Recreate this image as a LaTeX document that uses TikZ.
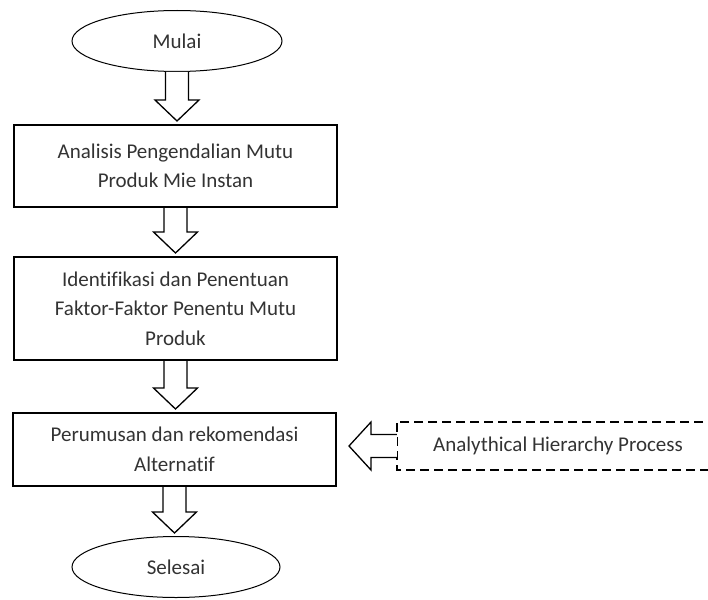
\documentclass[tikz,border=0pt]{standalone}
\usepackage{fontspec}
\setmainfont[Ligatures=NoCommon]{Carlito}
\usetikzlibrary{calc,shapes.geometric}
\tikzset{
  txt/.style={font=\fontsize{21}{29.5}\selectfont, text=black!80, align=center},
  term/.style={txt, ellipse, draw, line width=1pt, inner sep=0pt},
  proc/.style={txt, rectangle, draw, line width=2pt, inner sep=0pt},
  ext/.style={txt, rectangle, inner sep=0pt},
  frame/.style={draw, line width=2pt, dash pattern=on 9pt off 5pt},
  blk/.style={draw, line width=1.3pt, line join=miter, fill=white}
}
\newcommand{\blkdown}[2]{%
  \draw[blk] let \p1=(#1.south), \p2=(#2.north) in
    (\x1-11.5pt,\y1) -- (\x1-11.5pt,\y2+24pt) -- (\x1-22pt,\y2+24pt) -- (\x1,\y2+3pt)
    -- (\x1+22pt,\y2+24pt) -- (\x1+11.5pt,\y2+24pt) -- (\x1+11.5pt,\y1);}
\begin{document}
\begin{tikzpicture}[x=1pt,y=-1pt]
\useasboundingbox (0,0) rectangle (708,599);
\node[term, minimum width=210pt, minimum height=61pt] (mulai) at (177,41) {Mulai};
\node[proc, minimum width=323pt, minimum height=82pt] (a1) at (175.5,166) {Analisis Pengendalian Mutu\\Produk Mie Instan};
\node[proc, minimum width=323pt, minimum height=103pt] (a2) at (175.5,308.5) {Identifikasi dan Penentuan\\Faktor-Faktor Penentu Mutu\\Produk};
\node[proc, minimum width=323pt, minimum height=73pt] (a3) at (174.5,449.5) {Perumusan dan rekomendasi\\Alternatif};
\node[term, minimum width=208pt, minimum height=61pt] (selesai) at (176,567) {Selesai};
\node[ext, minimum width=322pt, minimum height=48pt] (ahp) at (558,446) {Analythical Hierarchy Process};
\draw[frame] ($(ahp.north east)+(40,0)$) -- (ahp.north west) -- (ahp.south west) -- ($(ahp.south east)+(40,0)$);
\blkdown{mulai}{a1}
\blkdown{a1}{a2}
\blkdown{a2}{a3}
\blkdown{a3}{selesai}
\draw[blk] let \p1=(ahp.west), \p2=(a3.east) in
  (\x1,\y1+11.5pt) -- (\x2+34pt,\y1+11.5pt) -- (\x2+34pt,\y1+24pt) -- (\x2+12pt,\y1)
  -- (\x2+34pt,\y1-24pt) -- (\x2+34pt,\y1-11.5pt) -- (\x1,\y1-11.5pt);
\end{tikzpicture}
\end{document}
